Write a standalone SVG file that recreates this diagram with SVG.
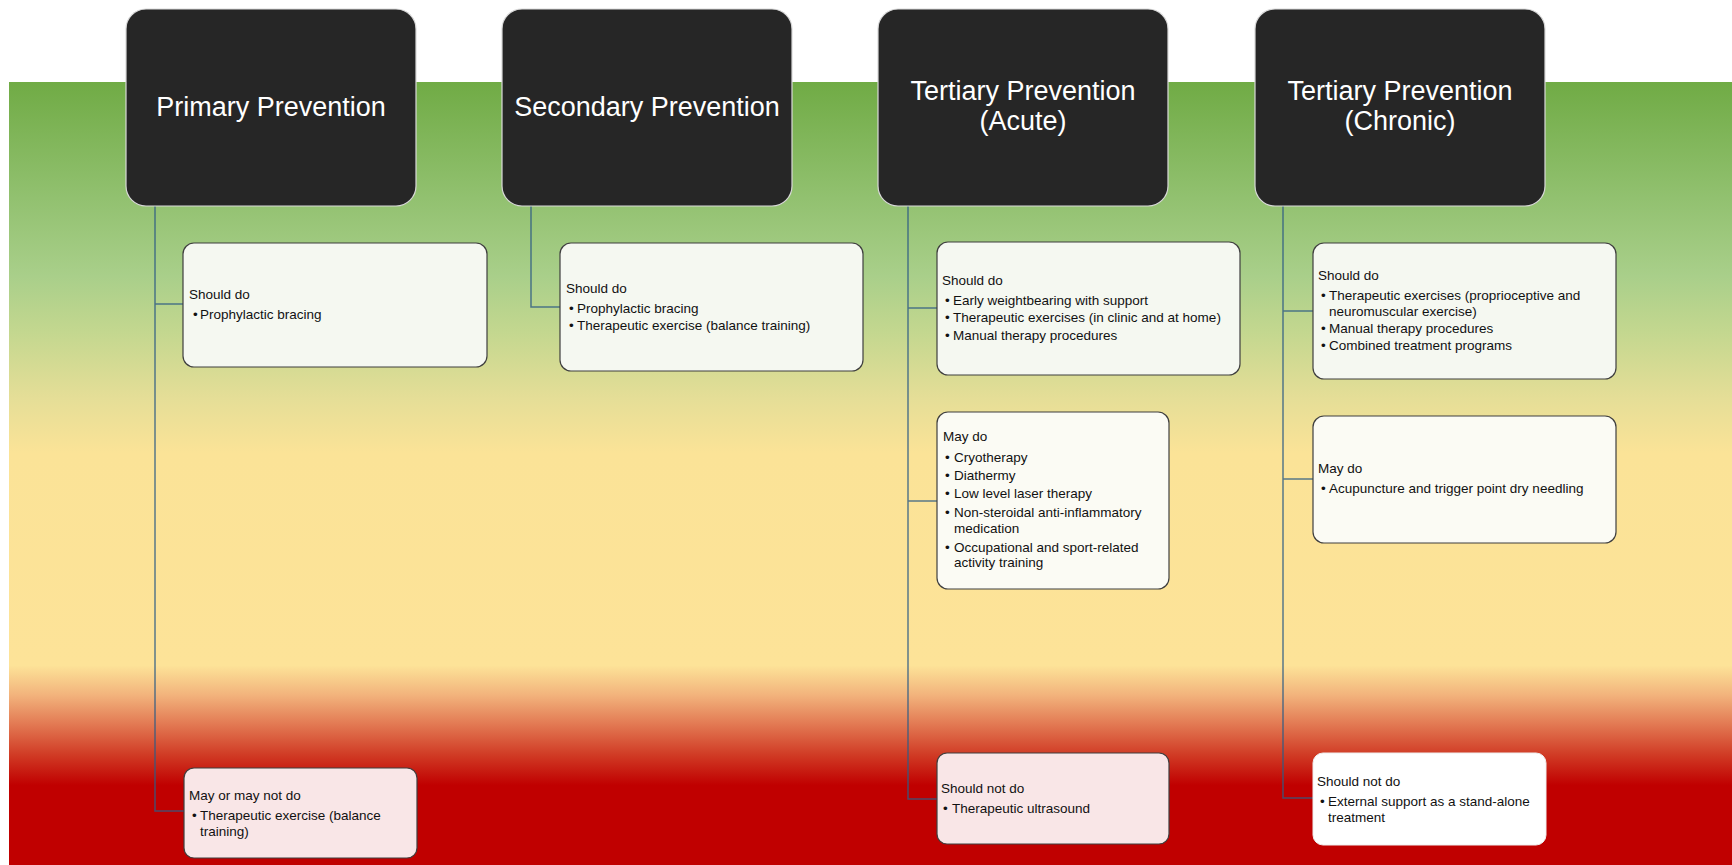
<svg xmlns="http://www.w3.org/2000/svg" width="1732" height="865" viewBox="0 0 1732 865">
<defs>
<linearGradient id="bg" x1="0" y1="82" x2="0" y2="865" gradientUnits="userSpaceOnUse">
<stop offset="0" stop-color="#70ab45"/>
<stop offset="0.149" stop-color="#92c170"/>
<stop offset="0.248" stop-color="#a9cf8a"/>
<stop offset="0.318" stop-color="#c3d78f"/>
<stop offset="0.404" stop-color="#e5de97"/>
<stop offset="0.474" stop-color="#fbe397"/>
<stop offset="0.745" stop-color="#fde398"/>
<stop offset="0.783" stop-color="#f2b37c"/>
<stop offset="0.821" stop-color="#e27852"/>
<stop offset="0.86" stop-color="#d03a24"/>
<stop offset="0.898" stop-color="#c00000"/>
<stop offset="1" stop-color="#c00000"/>
</linearGradient>
</defs>
<style>
.hdr{fill:#262626;stroke:#d9d9d9;stroke-width:1.2}
.ht{font-family:"Liberation Sans",Arial,sans-serif;font-size:27px;fill:#ffffff;text-anchor:middle}
.box{stroke:#3f3f3f;stroke-width:1.2}
.g{fill:#f5f8f1}
.y{fill:#fbfbf4}
.p{fill:#f9e6e7}
.w{fill:#ffffff;stroke:#eeeeee}
.t{font-family:"Liberation Sans",Arial,sans-serif;font-size:13.5px;fill:#111111}
.c{fill:none;stroke:#2f5b85;stroke-opacity:0.8;stroke-width:1.5}
</style>
<rect x="0" y="0" width="1732" height="865" fill="#ffffff"/>
<rect x="9" y="82" width="1723" height="783" fill="url(#bg)"/>

<g id="connectors">
<path class="c" d="M155 206 V811 H184 M155 304 H183"/>
<path class="c" d="M531 206 V307 H560"/>
<path class="c" d="M908 206 V799 H937 M908 308 H937 M908 501 H937"/>
<path class="c" d="M1283 206 V798 H1313 M1283 311 H1313 M1283 479 H1313"/>
</g>

<g id="primary">
<rect class="hdr" x="126" y="9" width="290" height="197" rx="20"/>
<text class="ht" x="271" y="116">Primary Prevention</text>
</g>
<g id="secondary">
<rect class="hdr" x="502" y="9" width="290" height="197" rx="20"/>
<text class="ht" x="647" y="116">Secondary Prevention</text>
</g>
<g id="tertiary-acute">
<rect class="hdr" x="878" y="9" width="290" height="197" rx="20"/>
<text class="ht" x="1023" y="100">Tertiary Prevention</text>
<text class="ht" x="1023" y="130">(Acute)</text>
</g>
<g id="tertiary-chronic">
<rect class="hdr" x="1255" y="9" width="290" height="197" rx="20"/>
<text class="ht" x="1400" y="100">Tertiary Prevention</text>
<text class="ht" x="1400" y="130">(Chronic)</text>
</g>

<g id="primary-should">
<rect class="box g" x="183" y="243" width="304" height="124" rx="11"/>
<text class="t" x="189" y="299">Should do</text>
<text class="t" x="193" y="319">•</text><text class="t" x="200" y="319">Prophylactic bracing</text>
</g>
<g id="primary-maybe">
<rect class="box p" x="184" y="768" width="233" height="90" rx="10"/>
<text class="t" x="189" y="800">May or may not do</text>
<text class="t" x="192" y="820">•</text><text class="t" x="200" y="820">Therapeutic exercise (balance</text>
<text class="t" x="200" y="836">training)</text>
</g>

<g id="secondary-should">
<rect class="box g" x="560" y="243" width="303" height="128" rx="11"/>
<text class="t" x="566" y="293">Should do</text>
<text class="t" x="569" y="313">•</text><text class="t" x="577" y="313">Prophylactic bracing</text>
<text class="t" x="569" y="330">•</text><text class="t" x="577" y="330">Therapeutic exercise (balance training)</text>
</g>

<g id="acute-should">
<rect class="box g" x="937" y="242" width="303" height="133" rx="11"/>
<text class="t" x="942" y="285">Should do</text>
<text class="t" x="945" y="305">•</text><text class="t" x="953" y="305">Early weightbearing with support</text>
<text class="t" x="945" y="322">•</text><text class="t" x="953" y="322">Therapeutic exercises (in clinic and at home)</text>
<text class="t" x="945" y="340">•</text><text class="t" x="953" y="340">Manual therapy procedures</text>
</g>
<g id="acute-may">
<rect class="box y" x="937" y="412" width="232" height="177" rx="11"/>
<text class="t" x="943" y="441">May do</text>
<text class="t" x="945" y="462">•</text><text class="t" x="954" y="462">Cryotherapy</text>
<text class="t" x="945" y="480">•</text><text class="t" x="954" y="480">Diathermy</text>
<text class="t" x="945" y="498">•</text><text class="t" x="954" y="498">Low level laser therapy</text>
<text class="t" x="945" y="517">•</text><text class="t" x="954" y="517">Non-steroidal anti-inflammatory</text>
<text class="t" x="954" y="533">medication</text>
<text class="t" x="945" y="552">•</text><text class="t" x="954" y="552">Occupational and sport-related</text>
<text class="t" x="954" y="567">activity training</text>
</g>
<g id="acute-not">
<rect class="box p" x="937" y="753" width="232" height="91" rx="10"/>
<text class="t" x="941" y="793">Should not do</text>
<text class="t" x="943" y="813">•</text><text class="t" x="952" y="813">Therapeutic ultrasound</text>
</g>

<g id="chronic-should">
<rect class="box g" x="1313" y="243" width="303" height="136" rx="11"/>
<text class="t" x="1318" y="280">Should do</text>
<text class="t" x="1321" y="300">•</text><text class="t" x="1329" y="300">Therapeutic exercises (proprioceptive and</text>
<text class="t" x="1329" y="316">neuromuscular exercise)</text>
<text class="t" x="1321" y="333">•</text><text class="t" x="1329" y="333">Manual therapy procedures</text>
<text class="t" x="1321" y="350">•</text><text class="t" x="1329" y="350">Combined treatment programs</text>
</g>
<g id="chronic-may">
<rect class="box y" x="1313" y="416" width="303" height="127" rx="11"/>
<text class="t" x="1318" y="473">May do</text>
<text class="t" x="1321" y="493">•</text><text class="t" x="1329" y="493">Acupuncture and trigger point dry needling</text>
</g>
<g id="chronic-not">
<rect class="w" x="1313" y="753" width="233" height="92" rx="10" stroke-width="1"/>
<text class="t" x="1317" y="786">Should not do</text>
<text class="t" x="1320" y="806">•</text><text class="t" x="1328" y="806">External support as a stand-alone</text>
<text class="t" x="1328" y="822">treatment</text>
</g>
</svg>
